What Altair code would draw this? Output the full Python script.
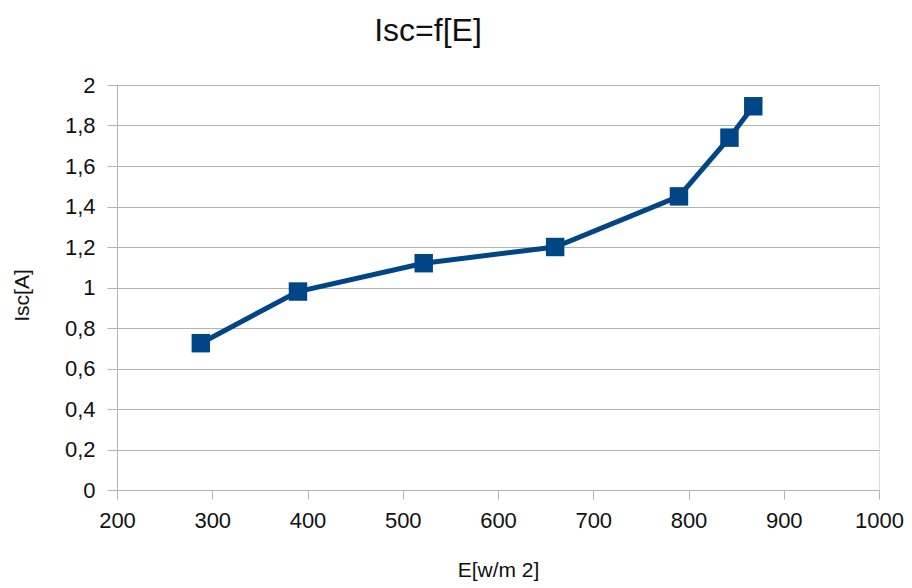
import altair as alt
import pandas as pd

# Irradiance E [W/m2] and short-circuit current Isc [A]
irradiance = [288, 390, 522, 660, 790, 843, 868]
isc = [0.725, 0.98, 1.12, 1.20, 1.45, 1.74, 1.895]

x_ticks = [200, 300, 400, 500, 600, 700, 800, 900, 1000]
y_ticks = [0, 0.2, 0.4, 0.6, 0.8, 1.0, 1.2, 1.4, 1.6, 1.8, 2.0]

df = pd.DataFrame({"E": irradiance, "Isc": isc})

FONT = "Liberation Sans, Arial, sans-serif"
BLUE = "#004586"
GRID = "#b3b3b3"
TEXT = "#111111"

x_enc = alt.X(
    "E:Q",
    scale=alt.Scale(domain=[200, 1000], nice=False, zero=False),
    axis=alt.Axis(
        values=x_ticks, title="E[w/m 2]", grid=False, format="d",
        labelFlush=False,
        domainColor=GRID, tickColor=GRID, tickSize=9,
        labelPadding=11, labelFontSize=22, labelFont=FONT, labelColor=TEXT,
        titleFontSize=21, titleFont=FONT, titleFontWeight="normal",
        titleColor=TEXT, titlePadding=28,
    ),
)
y_enc = alt.Y(
    "Isc:Q",
    scale=alt.Scale(domain=[0, 2], nice=False),
    axis=alt.Axis(
        values=y_ticks, title="Isc[A]", labelFlush=False,
        labelExpr="replace(format(datum.value, '~g'), '.', ',')",
        gridColor=GRID, domainColor=GRID, tickColor=GRID, tickSize=10,
        labelPadding=12, labelFontSize=22, labelFont=FONT, labelColor=TEXT,
        titleFontSize=21, titleFont=FONT, titleFontWeight="normal",
        titleColor=TEXT, titlePadding=32, titleY=210,
    ),
)

line = alt.Chart(df).mark_line(color=BLUE, strokeWidth=5).encode(x=x_enc, y=y_enc)
points = alt.Chart(df).mark_point(
    shape="square", filled=True, size=340, color=BLUE, opacity=1
).encode(x="E:Q", y="Isc:Q")

chart = (
    alt.layer(line, points)
    .properties(
        width=762,
        height=405,
        autosize=alt.AutoSizeParams(type="none"),
        padding={"left": 117, "top": 85, "right": 33, "bottom": 98},
        title=alt.TitleParams(
            "Isc=f[E]", fontSize=32, font=FONT, fontWeight="normal",
            color=TEXT, offset=26, anchor="middle", dx=-70,
        ),
    )
    .configure_view(stroke=GRID, strokeWidth=1)
    .configure(background="white")
)

chart.save("out.html", embed_options={"renderer": "svg", "actions": False})
